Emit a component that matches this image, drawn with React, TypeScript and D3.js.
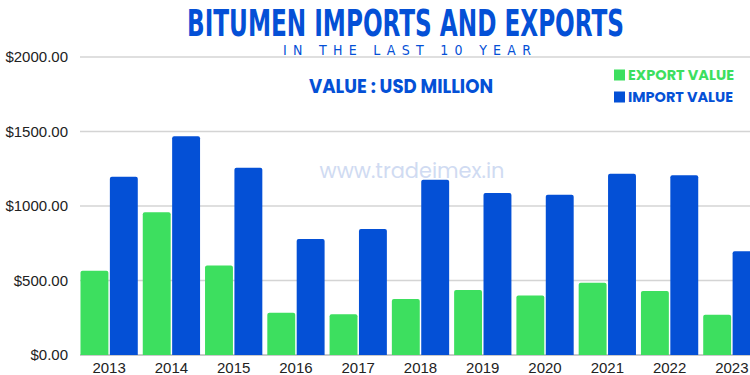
import { useRef, useEffect } from "react";
import * as d3 from "d3";

const years = ["2013", "2014", "2015", "2016", "2017", "2018", "2019", "2020", "2021", "2022", "2023"];
const exportValues = [565, 958, 600, 284, 273, 376, 436, 400, 485, 430, 270];
const importValues = [1197, 1468, 1257, 778, 846, 1177, 1087, 1076, 1217, 1206, 696];
const yTicks = [0, 500, 1000, 1500, 2000];
const seriesNames = ["EXPORT VALUE", "IMPORT VALUE"];

const GREEN = "#3ddf5f";
const BLUE = "#0450d6";

const App = () => {
  const ref = useRef<SVGSVGElement | null>(null);

  useEffect(() => {
    const svg = d3.select(ref.current);
    svg.selectAll("*").remove();

    const left = 78;
    const right = 763;
    const bottom = 355;
    const top = 57;

    const x0 = d3.scaleBand().domain(years).range([left, right]).paddingInner(0.08).paddingOuter(0.04);
    const x1 = d3.scaleBand().domain(["export", "import"]).range([0, x0.bandwidth()]).paddingInner(0.05);
    const y = d3.scaleLinear().domain([0, 2000]).range([bottom, top]);

    // grid lines + y labels
    svg.append("g")
      .selectAll("line")
      .data(yTicks)
      .enter()
      .append("line")
      .attr("x1", 80)
      .attr("x2", 750)
      .attr("y1", (d) => y(d))
      .attr("y2", (d) => y(d))
      .attr("stroke", (d) => (d === 0 ? "#b9b9b9" : "#d4d4d4"))
      .attr("stroke-width", 1.5);

    svg.append("g")
      .selectAll("text")
      .data(yTicks)
      .enter()
      .append("text")
      .attr("x", 68)
      .attr("y", (d) => y(d))
      .attr("dy", "0.35em")
      .attr("text-anchor", "end")
      .attr("font-family", "Liberation Sans, Arial, sans-serif")
      .attr("font-size", 15)
      .attr("fill", "#222")
      .text((d) => "$" + d3.format(".2f")(d));

    // watermark
    svg.append("text")
      .attr("x", 412)
      .attr("y", 178)
      .attr("text-anchor", "middle")
      .attr("font-family", "Poppins, Inter, 'Noto Sans', sans-serif")
      .attr("font-size", 21)
      .attr("fill", "#d0dbf2")
      .attr("textLength", 185)
      .attr("lengthAdjust", "spacingAndGlyphs")
      .text("www.tradeimex.in");

    // bars
    const groups = svg.append("g")
      .selectAll("g")
      .data(years)
      .enter()
      .append("g")
      .attr("transform", (d) => `translate(${x0(d)},0)`);

    const barPath = (bx: number, w: number, yTop: number) => {
      const r = 2;
      return `M${bx},${bottom}V${yTop + r}Q${bx},${yTop} ${bx + r},${yTop}H${bx + w - r}Q${bx + w},${yTop} ${bx + w},${yTop + r}V${bottom}Z`;
    };

    groups.append("path")
      .attr("fill", GREEN)
      .attr("d", (_, i) => barPath(x1("export")!, x1.bandwidth(), y(exportValues[i])));

    groups.append("path")
      .attr("fill", BLUE)
      .attr("d", (_, i) => barPath(x1("import")!, x1.bandwidth(), y(importValues[i])));

    // x labels
    svg.append("g")
      .selectAll("text")
      .data(years)
      .enter()
      .append("text")
      .attr("x", (d) => x0(d)! + x0.bandwidth() / 2)
      .attr("y", 373)
      .attr("text-anchor", "middle")
      .attr("font-family", "Liberation Sans, Arial, sans-serif")
      .attr("font-size", 15)
      .attr("fill", "#222")
      .text((d) => d);

    // titles
    svg.append("text")
      .attr("x", 187)
      .attr("y", 35.5)
      .attr("font-family", "'Liberation Sans Narrow', 'DejaVu Sans Condensed', sans-serif")
      .attr("font-weight", "bold")
      .attr("font-size", 38)
      .attr("fill", BLUE)
      .attr("textLength", 437)
      .attr("lengthAdjust", "spacingAndGlyphs")
      .text("BITUMEN IMPORTS AND EXPORTS");

    svg.append("text")
      .attr("x", 283)
      .attr("y", 55)
      .attr("font-family", "'Liberation Sans Narrow', 'DejaVu Sans Condensed', sans-serif")
      .attr("font-size", 14)
      .attr("fill", BLUE)
      .attr("textLength", 248)
      .attr("lengthAdjust", "spacing")
      .text("IN THE LAST 10 YEAR");

    svg.append("text")
      .attr("x", 309)
      .attr("y", 93)
      .attr("font-family", "Poppins, Inter, 'Noto Sans', sans-serif")
      .attr("font-weight", "bold")
      .attr("font-size", 19)
      .attr("fill", BLUE)
      .attr("textLength", 184)
      .attr("lengthAdjust", "spacingAndGlyphs")
      .text("VALUE : USD MILLION");

    // legend
    const legend = svg.append("g")
      .selectAll("g")
      .data(seriesNames)
      .enter()
      .append("g")
      .attr("transform", (_, i) => `translate(614,${75 + i * 22})`);

    legend.append("rect")
      .attr("x", 0)
      .attr("y", -5.5)
      .attr("width", 11)
      .attr("height", 11)
      .attr("fill", (_, i) => (i === 0 ? GREEN : BLUE));

    legend.append("text")
      .attr("x", 14)
      .attr("y", 0)
      .attr("dy", "0.36em")
      .attr("font-family", "Poppins, Inter, 'Noto Sans', sans-serif")
      .attr("font-weight", "bold")
      .attr("font-size", 14)
      .attr("fill", (_, i) => (i === 0 ? GREEN : BLUE))
      .attr("textLength", (_, i) => (i === 0 ? 106 : 105))
      .attr("lengthAdjust", "spacingAndGlyphs")
      .text((d) => d);
  }, []);

  return (
    <svg
      ref={ref}
      width={750}
      height={375}
      style={{ position: "absolute", left: 0, top: 0, background: "#fff" }}
    />
  );
};

export default App;
